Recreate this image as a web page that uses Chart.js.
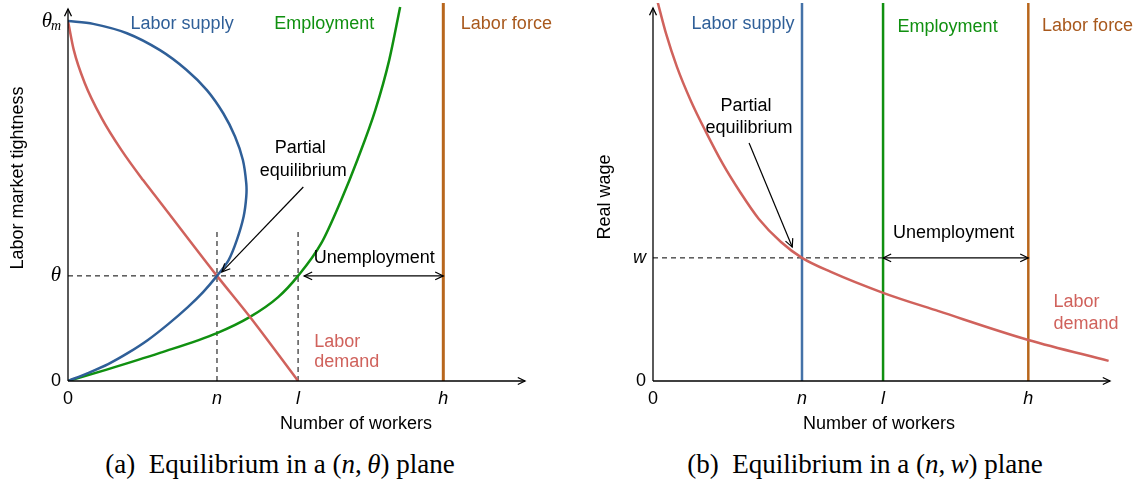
<!DOCTYPE html>
<html>
<head>
<meta charset="utf-8">
<script src="https://cdn.jsdelivr.net/npm/chart.js@4.4.1/dist/chart.umd.min.js"></script>
<style>
  body { margin: 0; background: #fff; width: 1141px; height: 484px; position: relative; overflow: hidden; }
  #wrapA { position: absolute; left: 0; top: 0; width: 575px; height: 440px; }
  #wrapB { position: absolute; left: 575px; top: 0; width: 566px; height: 440px; }
  .cap { position: absolute; top: 449px; width: 560px; text-align: center; line-height: 30px;
         font-family: 'Liberation Serif', 'DejaVu Serif', serif; font-size: 27px; color: #000; }
</style>
</head>
<body>
<div id="wrapA"><canvas id="chartA" width="575" height="440"></canvas></div>
<div id="wrapB"><canvas id="chartB" width="566" height="440"></canvas></div>
<div class="cap" style="left:0">(a)&ensp;Equilibrium in a (<i>n</i>,&thinsp;<i>θ</i>) plane</div>
<div class="cap" style="left:585px">(b)&ensp;Equilibrium in a (<i>n</i>,&thinsp;<i>w</i>) plane</div>
<script>
// axis extents and equilibrium levels
const X_MAX = 1.215, Y_MAX = 1.05;
const nStar = 0.397, lStar = 0.613, hForce = 1.0;
const thetaStar = 0.292, thetaMax = 1.0, wStar = 0.342;

const xTickValues = [0, nStar, lStar, hForce];
const xTickLabels = ['0', 'n', 'l', 'h'];
const yTickValuesA = [0, thetaStar, thetaMax];
const yTickLabelsA = ['0', 'θ', ''];
const yTickValuesB = [0, wStar];
const yTickLabelsB = ['0', 'w'];

// (a) labor supply, traced from theta_m back down to the origin
const supplyA_n     = [0, 0.067, 0.157, 0.245, 0.316, 0.370, 0.414, 0.445, 0.466, 0.475, 0.475, 0.468, 0.450, 0.428, 0.397, 0.360, 0.320, 0.267, 0.213, 0.160, 0.107, 0.053, 0];
const supplyA_theta = [1.0, 0.992, 0.966, 0.919, 0.864, 0.808, 0.743, 0.679, 0.614, 0.549, 0.512, 0.457, 0.392, 0.336, 0.292, 0.247, 0.206, 0.158, 0.114, 0.078, 0.047, 0.022, 0];
// (a) labor demand
const demandA_n     = [0, 0.0155, 0.0445, 0.0893, 0.142, 0.200, 0.241, 0.397, 0.484, 0.613];
const demandA_theta = [1.0, 0.919, 0.828, 0.731, 0.642, 0.558, 0.503, 0.292, 0.179, 0];
// (a) employment
const employA_n     = [0, 0.101, 0.245, 0.397, 0.485, 0.56, 0.613, 0.675, 0.728, 0.771, 0.819, 0.856, 0.885];
const employA_theta = [0, 0.031, 0.078, 0.133, 0.178, 0.233, 0.292, 0.383, 0.503, 0.614, 0.753, 0.892, 1.039];
// (b) labor demand in wages
const demandB_n = [0.011, 0.035, 0.064, 0.101, 0.141, 0.186, 0.232, 0.282, 0.341, 0.397, 0.474, 0.613, 0.761, 1.0, 1.214];
const demandB_w = [1.058, 0.964, 0.872, 0.778, 0.692, 0.603, 0.525, 0.45, 0.386, 0.342, 0.303, 0.245, 0.194, 0.114, 0.056];

const BLUE = '#2f5f98', BLUE_B = '#4472a8', RED = '#d0625c', GREEN = '#109010', ORANGE = '#b8661c';
const SANS = "'Liberation Sans', Arial, sans-serif";
const SERIF = "'Liberation Serif', 'DejaVu Serif', serif";

const zip = (xs, ys) => xs.map((x, i) => ({ x: x, y: ys[i] }));

function curve(xs, ys, color, width, tension, mono) {
  return { data: zip(xs, ys), showLine: true, borderColor: color, borderWidth: width,
           pointRadius: 0, tension: tension, fill: false,
           cubicInterpolationMode: mono ? 'monotone' : 'default' };
}
function segment(x1, y1, x2, y2, color, width, dash) {
  return { data: [{ x: x1, y: y1 }, { x: x2, y: y2 }], showLine: true, borderColor: color,
           borderWidth: width, borderDash: dash || [], pointRadius: 0, fill: false };
}

function arrowHead(ctx, x, y, ang, size) {
  ctx.beginPath();
  ctx.moveTo(x - size * Math.cos(ang - 0.45), y - size * Math.sin(ang - 0.45));
  ctx.lineTo(x, y);
  ctx.lineTo(x - size * Math.cos(ang + 0.45), y - size * Math.sin(ang + 0.45));
  ctx.stroke();
}

function annotate(opts) {
  return {
    id: 'annot',
    afterDatasetsDraw(chart) {
      const ctx = chart.ctx, xs = chart.scales.x, ys = chart.scales.y, area = chart.chartArea;
      const px = v => xs.getPixelForValue(v), py = v => ys.getPixelForValue(v);
      ctx.save();
      ctx.strokeStyle = '#000'; ctx.fillStyle = '#000'; ctx.lineWidth = 1.3;
      // axes with arrows
      const ox = px(0), oy = py(0);
      ctx.beginPath(); ctx.moveTo(ox, oy); ctx.lineTo(area.right + 1, oy); ctx.stroke();
      arrowHead(ctx, area.right + 1, oy, 0, 8);
      ctx.beginPath(); ctx.moveTo(ox, oy); ctx.lineTo(ox, opts.yArrowTop); ctx.stroke();
      arrowHead(ctx, ox, opts.yArrowTop, -Math.PI / 2, 8);
      // annotation arrows
      ctx.lineWidth = 1.2;
      opts.arrows.forEach(a => {
        const x1 = px(a.x1) + (a.dx1 || 0), y1 = py(a.y1), x2 = px(a.x2), y2 = py(a.y2);
        ctx.beginPath(); ctx.moveTo(x1, y1); ctx.lineTo(x2, y2); ctx.stroke();
        const ang = Math.atan2(y2 - y1, x2 - x1);
        arrowHead(ctx, x2, y2, ang, 9);
        if (a.both) arrowHead(ctx, x1, y1, ang + Math.PI, 9);
      });
      // text labels
      ctx.textBaseline = 'middle';
      opts.texts.forEach(t => {
        ctx.font = '18px ' + SANS;
        ctx.fillStyle = t.color || '#000';
        ctx.textAlign = t.align || 'center';
        ctx.fillText(t.text, px(t.x), py(t.y));
      });
      // axis titles
      ctx.fillStyle = '#000';
      ctx.font = '18px ' + SANS;
      ctx.textAlign = 'center';
      ctx.fillText('Number of workers', opts.xTitle[0], opts.xTitle[1]);
      ctx.save();
      ctx.translate(opts.yTitle[0], opts.yTitle[1]);
      ctx.rotate(-Math.PI / 2);
      ctx.fillText(opts.yTitleText, 0, 0);
      ctx.restore();
      // theta_m tick label with subscript
      if (opts.thetaM) {
        const ty = py(thetaMax);
        ctx.textAlign = 'right';
        ctx.font = 'italic 14px ' + SERIF;
        ctx.fillText('m', ox - 7, ty + 5);
        ctx.font = 'italic 21px ' + SERIF;
        ctx.fillText('θ', ox - 16, ty);
      }
      ctx.restore();
    }
  };
}

function options(padRight, yWidth, yTicks, yLabels, yFont) {
  return {
    responsive: false,
    animation: false,
    layout: { padding: { top: 3, right: padRight, left: 0, bottom: 0 } },
    plugins: { legend: { display: false }, tooltip: { enabled: false } },
    scales: {
      x: {
        type: 'linear', min: 0, max: X_MAX,
        grid: { display: false, drawTicks: false }, border: { display: false },
        afterFit: s => { s.height = 440 - 381; s.paddingLeft = 0; s.paddingRight = 0; },
        afterBuildTicks: s => { s.ticks = xTickValues.map(v => ({ value: v })); },
        ticks: {
          padding: 7, color: '#000', autoSkip: false, maxRotation: 0,
          callback: (v, i) => xTickLabels[i],
          font: c => ({ family: SANS, size: 18, style: c.index === 0 ? 'normal' : 'italic' })
        }
      },
      y: {
        type: 'linear', min: 0, max: Y_MAX,
        grid: { display: false, drawTicks: false }, border: { display: false },
        afterFit: s => { s.width = yWidth; s.paddingTop = 0; s.paddingBottom = 0; },
        afterBuildTicks: s => { s.ticks = yTicks.map(v => ({ value: v })); },
        ticks: {
          padding: 7, color: '#000', autoSkip: false,
          callback: (v, i) => yLabels[i],
          font: yFont
        }
      }
    }
  };
}

new Chart(document.getElementById('chartA'), {
  type: 'scatter',
  data: {
    datasets: [
      curve(supplyA_n, supplyA_theta, BLUE, 2.5, 0.3, false),
      curve(demandA_n, demandA_theta, RED, 2.5, 0, true),
      curve(employA_n, employA_theta, GREEN, 2.5, 0, true),
      segment(hForce, 0, hForce, Y_MAX, ORANGE, 3),
      segment(0, thetaStar, lStar, thetaStar, '#000', 1, [5, 4]),
      segment(nStar, 0, nStar, 0.425, '#000', 1, [5, 4]),
      segment(lStar, 0, lStar, 0.425, '#000', 1, [5, 4])
    ]
  },
  options: options(51, 68, yTickValuesA, yTickLabelsA,
    c => c.index === 0 ? { family: SANS, size: 18 } : { family: SERIF, size: 21, style: 'italic' }),
  plugins: [annotate({
    yArrowTop: 9,
    xTitle: [356, 424],
    yTitle: [18, 178],
    yTitleText: 'Labor market tightness',
    thetaM: true,
    arrows: [
      { x1: 0.627, y1: 0.539, x2: 0.41, y2: 0.303 },
      { x1: lStar, y1: thetaStar, x2: hForce, y2: thetaStar, both: true, dx1: 6 }
    ],
    texts: [
      { text: 'Labor supply', x: 0.304, y: 0.992, color: BLUE },
      { text: 'Employment', x: 0.683, y: 0.992, color: GREEN },
      { text: 'Labor force', x: 1.168, y: 0.992, color: '#a8581c' },
      { text: 'Partial', x: 0.619, y: 0.647 },
      { text: 'equilibrium', x: 0.627, y: 0.583 },
      { text: 'Unemployment', x: 0.816, y: 0.342 },
      { text: 'Labor', x: 0.656, y: 0.108, color: RED, align: 'left' },
      { text: 'demand', x: 0.656, y: 0.053, color: RED, align: 'left' }
    ]
  })]
});

new Chart(document.getElementById('chartB'), {
  type: 'scatter',
  data: {
    datasets: [
      curve(demandB_n, demandB_w, RED, 2.5, 0, true),
      segment(nStar, 0, nStar, Y_MAX, BLUE_B, 2.5),
      segment(lStar, 0, lStar, Y_MAX, GREEN, 2.5),
      segment(hForce, 0, hForce, Y_MAX, ORANGE, 2.5),
      segment(0, wStar, lStar, wStar, '#000', 1, [5, 4])
    ]
  },
  options: options(32, 78, yTickValuesB, yTickLabelsB,
    c => ({ family: SANS, size: 18, style: c.index === 0 ? 'normal' : 'italic' })),
  plugins: [annotate({
    yArrowTop: 8,
    xTitle: [304, 424],
    yTitle: [30, 197],
    yTitleText: 'Real wage',
    thetaM: false,
    arrows: [
      { x1: 0.256, y1: 0.661, x2: 0.371, y2: 0.372 },
      { x1: lStar, y1: wStar, x2: hForce, y2: wStar, both: true }
    ],
    texts: [
      { text: 'Labor supply', x: 0.240, y: 0.992, color: BLUE },
      { text: 'Employment', x: 0.785, y: 0.983, color: GREEN },
      { text: 'Labor force', x: 1.158, y: 0.986, color: '#a8581c' },
      { text: 'Partial', x: 0.248, y: 0.764 },
      { text: 'equilibrium', x: 0.256, y: 0.703 },
      { text: 'Unemployment', x: 0.801, y: 0.411 },
      { text: 'Labor', x: 1.067, y: 0.219, color: RED, align: 'left' },
      { text: 'demand', x: 1.067, y: 0.158, color: RED, align: 'left' }
    ]
  })]
});
</script>
</body>
</html>
